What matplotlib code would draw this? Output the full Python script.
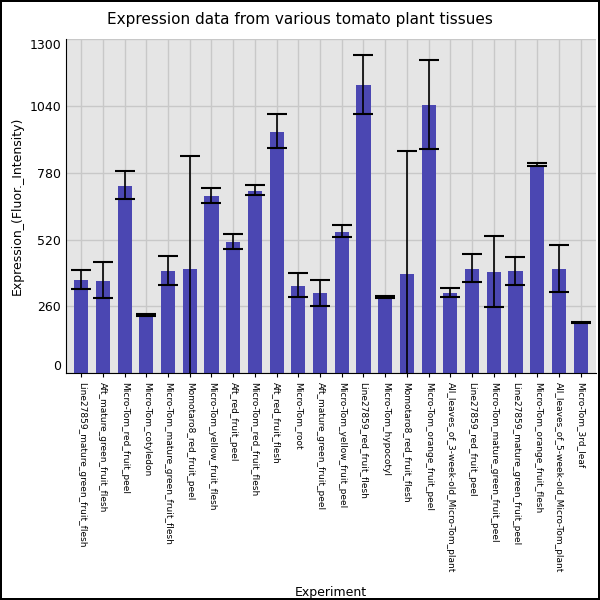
import matplotlib
matplotlib.use("Agg")
import matplotlib.pyplot as plt
import numpy as np

labels = ["Line27859_mature_green_fruit_flesh", "Aft_mature_green_fruit_flesh",
          "Micro-Tom_red_fruit_peel", "Micro-Tom_cotyledon",
          "Micro-Tom_mature_green_fruit_flesh", "Momotaro8_red_fruit_peel",
          "Micro-Tom_yellow_fruit_flesh", "Aft_red_fruit_peel",
          "Micro-Tom_red_fruit_flesh", "Aft_red_fruit_flesh", "Micro-Tom_root",
          "Aft_mature_green_fruit_peel", "Micro-Tom_yellow_fruit_peel",
          "Line27859_red_fruit_flesh", "Micro-Tom_hypocotyl",
          "Momotaro8_red_fruit_flesh", "Micro-Tom_orange_fruit_peel",
          "All_leaves_of_3-week-old_Micro-Tom_plant", "Line27859_red_fruit_peel",
          "Micro-Tom_mature_green_fruit_peel", "Line27859_mature_green_fruit_peel",
          "Micro-Tom_orange_fruit_flesh", "All_leaves_of_5-week-old_Micro-Tom_plant",
          "Micro-Tom_3rd_leaf"]
values = [361, 359, 728, 225, 397, 404, 689, 510, 709, 939, 338, 311,
          549, 1122, 296, 385, 1043, 311, 404, 393, 397, 811, 404, 197]
err_hi = [400, 431, 787, 229, 456, 843, 722, 541, 733, 1009, 388, 364,
          576, 1238, 300, 866, 1218, 333, 463, 533, 451, 816, 497, 200]
err_lo = [328, 293, 677, 221, 343, -35, 661, 485, 693, 875, 296, 260,
          530, 1010, 292, -96, 872, 295, 354, 257, 345, 806, 317, 194]

v = np.array(values)
yerr = [v - np.array(err_lo), np.array(err_hi) - v]
x = np.arange(len(labels))

fig = plt.figure(figsize=(6, 6), dpi=100)
fig.patch.set_edgecolor("black")
fig.patch.set_linewidth(1.5)
ax = fig.add_axes([0.11, 0.378, 0.883, 0.557])
ax.set_facecolor("#e5e5e5")
ax.set_axisbelow(True)
ax.grid(color="#c8c8c8", linewidth=1)
ax.bar(x, v, width=0.65, color="#4b47b2", zorder=2)
ax.errorbar(x, v, yerr=yerr, fmt="none", ecolor="black", elinewidth=1.2,
            capsize=7, capthick=1.5, zorder=3)
ax.set_xlim(-0.7, len(labels) - 0.3)
ax.set_ylim(0, 1300)
ax.set_yticks([0, 260, 520, 780, 1040, 1300])
ax.set_xticks(x)
ax.set_xticklabels(labels, rotation=270, fontsize=6.5)
ax.tick_params(axis="y", labelsize=9, length=0)
ax.tick_params(axis="x", length=3)
yl = ax.get_yticklabels()
yl[0].set_verticalalignment("bottom")
yl[-1].set_verticalalignment("top")
for s in ["top", "right"]:
    ax.spines[s].set_visible(False)
ax.set_ylabel("Expression_(Fluor._Intensity)", fontsize=9)
ax.set_xlabel("Experiment", fontsize=9)
ax.xaxis.set_label_coords(0.5, -0.638)
fig.suptitle("Expression data from various tomato plant tissues", fontsize=11, y=0.98)
fig.savefig("out.png")
